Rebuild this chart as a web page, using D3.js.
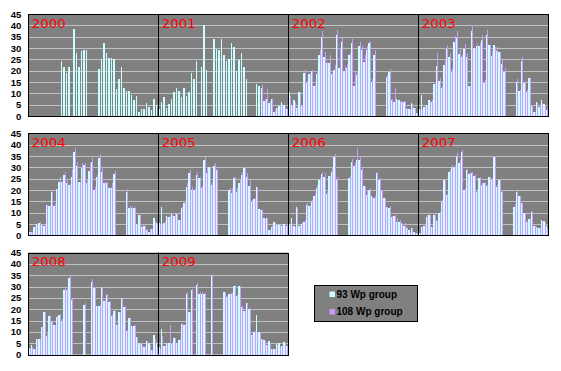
<!DOCTYPE html>
<html><head><meta charset="utf-8">
<script src="https://cdn.jsdelivr.net/npm/d3@7"></script>
<style>html,body{margin:0;padding:0;background:#fff;} svg{display:block}</style>
</head><body><svg id="c" width="561" height="371"></svg>
<script>
const N = null;
const yearList = [2000,2001,2002,2003,2004,2005,2006,2007,2008,2009];
const rowYears = [[2000,2001,2002,2003],[2004,2005,2006,2007],[2008,2009]];
const yTicks = [0,5,10,15,20,25,30,35,40,45];
const seriesNames = ["93 Wp group","108 Wp group"];

// weekly values, 52 weeks per year (93 Wp group = c, 108 Wp group = p)
const c2000=[N,N,N,N,N,N,N,N,N,N,N,N,N,24.3,21.6,19,21.6,N,38.4,27.8,21.6,28.8,29.1,29.1,N,N,N,N,20.7,25.1,32.4,27.8,25.6,25.6,25.1,11.9,16.3,21.6,12.4,11.2,11.2,9.3,7.2,8.8,1.9,3.1,2.9,5.9,4.1,2.8,7.6,5];
const p2000=[N,N,N,N,N,N,N,N,N,N,N,N,N,N,N,N,N,N,N,N,N,N,N,N,N,N,N,N,N,N,N,N,N,N,N,N,N,N,N,N,N,N,N,N,N,N,N,N,N,N,N,N];
const c2001=[3.2,6,8.2,3.7,5.3,7.4,10.6,12.2,11.2,8.5,12.2,8.8,10.6,19,16.3,24.3,N,21.6,40.1,20.3,N,N,34,29.6,29.3,34,27,24.3,25.1,32.2,30.4,20,24.7,27.8,21.6,16.3,N,N,N,14.1,13.2,12.2,6.8,7.5,5.9,7.4,1.9,3.4,4.4,6.3,4.7,2.9];
const p2001=[N,N,N,N,N,N,N,N,N,N,N,N,N,N,N,N,N,N,N,N,N,N,N,N,N,N,N,N,N,N,N,N,N,N,N,N,N,N,N,N,N,13.5,7.5,12,6.5,7.5,2.5,3.5,4.5,5.5,4,3];
const c2002=[10.7,4.9,7,3.5,10.6,4.5,19,14.4,18.5,20,13.2,18.5,27,35,26,23.5,23.5,18.5,20.3,35.7,21,32.6,20,21,27,32,13.2,18,31,29,24,29,32,15,27,N,N,N,N,17,19.5,7,6.3,7.4,7,6.3,6.3,2.9,2.9,5.9,3.4,1.2];
const p2002=[9,3.8,6.3,4,10.7,5,20.3,15.4,19,20.5,13.5,19.9,29.1,37.5,28.1,24,26.9,19,22.5,37.9,30,34.7,22,23,28,34,19.6,20,32.8,31,27,31,33,16.5,29.1,N,N,N,N,18,20.6,7.3,12.2,7,6.8,6.5,6.5,3.4,3.2,5.5,3.5,1.5];
const c2003=[2.9,9.3,4.1,4.9,7,6.3,14.1,22,15.4,12.2,22.5,29.4,26.2,19.6,32.8,34.3,27.4,26.2,29.4,26.2,13.2,37.5,30.1,30.9,31,33.5,14.7,35.7,31.3,26.5,31.3,28.8,28.1,22.9,19.6,N,N,N,N,15.1,11.2,24.3,14.7,10.7,16.6,4.4,1.9,6.2,3.8,7,5.3,2.6];
const p2003=[2.5,3,4.4,5,6.8,7,15.1,27.6,16.6,13.2,24.7,31.3,28,21,35.3,37.5,29.4,26.9,31.8,27.6,13.2,40.1,30.1,31.8,32.4,35.7,15.9,37.9,31.3,28.8,30.6,30.3,28.1,24.7,21,N,N,N,N,16.3,11.5,26.2,15.6,11.5,16.6,4.9,1.9,5.6,4.4,5.6,4.9,3.4];
const c2004=[1.5,1.5,3.5,5,5.5,4.5,4.2,13.4,13,19,13,20.5,23.5,23.5,26.6,23,22.2,25.6,36.9,30.7,23.7,29.9,31,23.2,28.4,32.5,20,25.6,34,28,23,23,20.7,21,27,N,N,N,N,19,12,12,12,5,9,3.8,4.1,2.5,1.5,2.8,7.6,5.5];
const p2004=[1.5,1.5,4,5,6,5,4.5,13.4,13.5,20,14,20.5,25.9,23.7,27.8,24.7,22.5,29.3,38.4,32.5,23.7,31.8,31.8,25,32,34.3,21.5,26.6,35.9,29.9,23.7,23.3,21.5,23,28.3,N,N,N,N,20.3,12.9,12.9,12.5,5,9,4,4.1,3,2.6,2.8,6.3,5];
const c2005=[5.6,12.4,5.6,8.5,8.2,9.4,8.5,9.3,6.8,11.9,14.1,21.5,27.6,20,20,26.6,25.1,20.7,33.2,27.4,30.3,22.2,30.6,28.8,N,N,N,N,20,18.8,25.1,19.3,23.2,26.6,29.9,25.9,21.9,14.9,15.9,21.5,11.5,11.2,7.5,7.5,2.4,3.5,6,4.6,4.6,4.1,5,4.1];
const p2005=[5,5.2,6.3,8.2,8.5,9,9.3,9.7,6.8,12.4,14.9,22.9,28.8,21.5,20.7,28,25.9,21.8,34.7,30.3,30.3,23.7,32,29.3,N,N,N,N,20.7,20.7,25.9,20.7,24.7,28,30.3,27.4,24.4,15.6,16.3,21.5,11.5,11.2,7,7.5,2.4,4.1,5.3,4.6,4.6,5,4,5];
const c2006=[5,7.5,4.1,12.4,4.1,5,6,13.4,13,14.6,17.4,20.7,24.4,27,25.9,18.2,26.2,28,34.7,24.4,N,N,N,N,25.1,32.5,30.6,33.2,33.2,28.8,21.8,17.8,20,17.4,16.3,27.4,24.4,19.7,16.3,12.4,11.9,8.2,8.5,6,6,5.3,4.1,3.1,2.4,3.1,1.6,0.9];
const p2006=[4.5,4,3.5,11.9,4.6,6,6.8,14.1,13.4,15.6,18.8,22.2,25.1,28,27.4,19.3,26.2,29.6,35.9,25.9,N,N,N,N,26.2,33.5,32,38.4,34.7,29.6,21.8,20,20.7,16.8,17.4,28,25.1,20,16.3,12.4,12.9,8.5,9,7.5,6.8,4.6,5.3,3.8,1.6,3.1,0.9,1.2];
const c2007=[0.9,3.8,4.1,8.2,9,3.8,9,6.5,10,14.9,24.4,17.8,28,30.3,30.3,35,32,36.9,20,28.8,26.9,27.4,26.2,19.3,25.1,22.2,23.2,21.8,25.6,24.4,34.7,21.5,24.4,19.3,N,N,N,N,12.6,19.3,17.4,14.4,9.7,6,7.2,10.4,4.1,3.5,3.1,6.8,6.5,4.1];
const p2007=[1.2,3.5,4.6,9,9,3.8,9.4,6.8,10.4,15.6,24.7,18.2,28.8,31,31,36.2,33.2,37.6,20.7,29.3,27.6,28,26.6,20.3,25.6,22.9,23.7,22.2,25.9,25.1,35,22.2,24.7,20,N,N,N,N,14,19.7,17.4,14.4,9.7,6.3,7.5,10.9,4.1,3.1,3.1,6.5,5.3,3.1];
const c2008=[3.1,4.1,2.4,6.8,6.8,12.3,18.9,8.3,17.2,14.2,13,16.4,17.5,15,28.7,28.3,33.7,24.3,N,N,N,N,21.9,N,N,32.2,29.3,21.6,21.6,29.7,23.8,26.3,23.4,16.9,19.4,13,18.9,24.9,21.2,10.5,16.1,12.6,12.4,7.8,5,4.6,3.5,6.1,5,1.9,8.6,5];
const p2008=[2.6,3.5,2.4,6.8,6.8,12.3,18.9,9,17.6,14.8,13.2,17.2,17.9,15.7,29.3,29,34.9,24.9,N,N,N,N,22.6,N,N,33.4,29.7,21.6,22,29.7,24.4,26.8,23.7,17.5,19.6,13.6,18.9,25.1,21.3,10.8,16.3,12.6,13,7.8,4.6,4.4,3.8,6.1,4.1,1.9,7.1,3.5];
const c2009=[3.4,11.2,3.8,5,5,4.6,7.5,5.3,6.5,13.5,13,26.8,18.6,28.3,N,30.8,26.8,26.8,26.6,N,N,34.5,N,N,N,N,27.5,25.3,26.8,26.8,30.2,25.7,30.2,20.9,19.4,22.8,20.1,8.6,10.1,17.5,10.1,6.8,6.5,4.1,6.1,2.4,2.4,4.6,5.3,3.8,5.6,4];
const p2009=[2.5,8.3,4,5,13.2,4.6,7.5,5.3,7.1,13.9,13.5,27.8,18.9,29,N,31.7,27.8,27.8,27,N,N,34.6,N,N,N,N,27.8,26,27.2,27.2,30.8,26.2,30.2,21.3,19.4,22.8,20.4,9,10.5,10.1,10.1,6.8,6.1,4.1,5.3,2.4,2.4,4.1,3.5,3.8,5,4];

const s93 = {2000:c2000,2001:c2001,2002:c2002,2003:c2003,2004:c2004,2005:c2005,2006:c2006,2007:c2007,2008:c2008,2009:c2009};
const s108 = {2000:p2000,2001:p2001,2002:p2002,2003:p2003,2004:p2004,2005:p2005,2006:p2006,2007:p2007,2008:p2008,2009:p2009};

const WEEKS = 52, yearW = 130, left = 28.3, plotH = 102;
const rowTop = [14, 133.3, 252.6];
const colors = ["#ccffff", "#cc99ff"];
const barOff = [0.1, 1.5], barW = [1.4, 1.0];
const svg = d3.select("#c");

rowYears.forEach((yrs, r) => {
  const y = d3.scaleLinear().domain([0, 45]).range([rowTop[r] + plotH, rowTop[r]]);
  const x = d3.scaleLinear().domain([0, WEEKS * yrs.length]).range([left, left + yearW * yrs.length]);
  const g = svg.append("g");
  const x0 = x(0), x1 = x(WEEKS * yrs.length);
  g.append("rect").attr("x", x0).attr("y", y(45)).attr("width", x1 - x0).attr("height", y(0) - y(45)).attr("fill", "#808080");
  g.selectAll("line.grid").data(yTicks.filter(t => t > 0 && t < 45)).enter().append("line")
    .attr("x1", x0).attr("x2", x1).attr("y1", d => Math.round(y(d)) + 0.5).attr("y2", d => Math.round(y(d)) + 0.5)
    .attr("stroke", "#c0c0c0").attr("stroke-width", 1);
  yrs.forEach((yr, k) => {
    [s93[yr], s108[yr]].forEach((arr, si) => {
      const pts = arr.map((v, w) => ({v, w})).filter(d => d.v != null && d.v > 0);
      g.selectAll(null).data(pts).enter().append("rect")
        .attr("x", d => x(k * WEEKS + d.w) + barOff[si])
        .attr("width", barW[si])
        .attr("y", d => y(d.v)).attr("height", d => y(0) - y(d.v))
        .attr("fill", colors[si]).attr("shape-rendering", "crispEdges");
    });
  });
  g.append("rect").attr("x", Math.round(x0) + 0.5).attr("y", Math.round(y(45)) + 0.5)
    .attr("width", Math.round(x1) - Math.round(x0)).attr("height", Math.round(y(0)) - Math.round(y(45)))
    .attr("fill", "none").attr("stroke", "#000");
  yrs.forEach((yr, k) => {
    if (k > 0) {
      const xs = Math.round(x(k * WEEKS)) + 0.5;
      g.append("line").attr("x1", xs).attr("x2", xs).attr("y1", y(45)).attr("y2", y(0)).attr("stroke", "#000");
    }
    g.append("text").attr("x", x(k * WEEKS) + 3.5).attr("y", y(45) + 13.8)
      .attr("font-family", "DejaVu Sans, Verdana, sans-serif").attr("font-size", 12.5)
      .attr("fill", "#ff0000").attr("textLength", 34).attr("lengthAdjust", "spacingAndGlyphs").text(yr);
  });
  const ax = g.append("g").attr("transform", `translate(${x0},0)`)
    .call(d3.axisLeft(y).tickValues(yTicks).tickSize(0).tickPadding(7));
  ax.select(".domain").remove();
  ax.selectAll("text").attr("font-family", "Liberation Sans, Arial, sans-serif").attr("font-size", 9.5)
    .attr("font-weight", "bold").attr("fill", "#000");
});

// legend
const lg = svg.append("g");
lg.append("rect").attr("x", 314.5).attr("y", 285.5).attr("width", 103).attr("height", 36)
  .attr("fill", "#808080").attr("stroke", "#000");
seriesNames.forEach((name, i) => {
  const yy = [291.5, 309][i];
  lg.append("rect").attr("x", 329.5).attr("y", yy).attr("width", 5.5).attr("height", 5.5).attr("fill", colors[i]);
  lg.append("text").attr("x", 336.5).attr("y", yy + 6)
    .attr("font-family", "Liberation Sans, Arial, sans-serif").attr("font-size", 10).attr("font-weight", "bold")
    .attr("fill", "#000").text(name);
});
</script></body></html>
